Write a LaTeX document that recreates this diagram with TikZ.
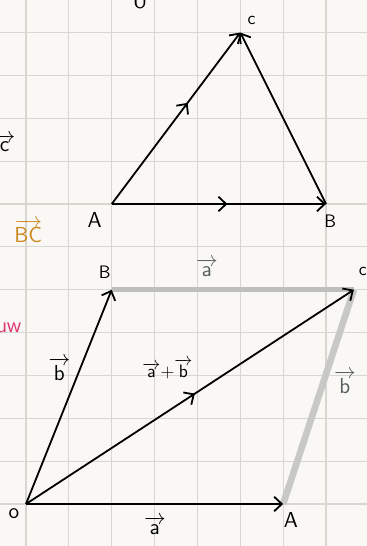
\documentclass[tikz,border=0pt]{standalone}
\usepackage{amsmath}
\usepackage{xcolor}
\definecolor{paper}{RGB}{250,248,244}
\definecolor{gridc}{RGB}{216,214,209}
\definecolor{ghost}{RGB}{200,200,196}
\definecolor{slate}{RGB}{85,95,95}
\definecolor{amber}{RGB}{205,135,30}
\definecolor{rose}{RGB}{222,55,115}
\usepackage{tikz}
\usetikzlibrary{arrows.meta,positioning,decorations.markings}
\tikzset{
  tip/.tip={Straight Barb[length=1.8mm,width=3.4mm]},
  vec/.style={line width=1.2pt,-tip},
  seg/.style={line width=1.2pt},
  midarrow/.style={postaction={decorate},decoration={markings,%
    mark=at position #1 with {\arrow{tip}}}},
  ghostline/.style={line width=3.6pt,draw=ghost},
  lbl/.style={font=\sffamily\large,inner sep=1pt},
  vlbl/.style={font=\sffamily\Large,inner sep=1pt},
}
\newcommand{\vv}[1]{$\overrightarrow{\mathsf{#1}}$}

\begin{document}
\begin{tikzpicture}
\fill[paper] (-0.607,-0.98) rectangle (7.956,11.76);
\useasboundingbox (-0.607,-0.98) rectangle (7.956,11.76);
\draw[gridc,line width=0.7pt] (-0.607,-0.98) grid (7.956,11.76);

% left margin, cut off
\node[lbl,font=\sffamily\Large,anchor=base] (topu) at (2.66,11.57) {U};
\node[vlbl] (vc) at (-0.5,8.42) {\vv{c}};
\node[vlbl,text=amber] (vbc) at (0.05,6.38) {$\overrightarrow{\mathsf{BC}}$};
\node[lbl,font=\sffamily\Large,text=rose,anchor=base] (uw) at (-0.4,4.0) {uw};

% triangle
\coordinate (tA) at (2,7);
\coordinate (tB) at (7,7);
\coordinate (tC) at (5,11);
\node[lbl,font=\sffamily\Large] (labtA) at (1.6,6.63) {A};
\node[lbl] (labtB) at (7.1,6.6) {B};
\node[lbl] (labtC) at (5.26,11.28) {c};
\draw[vec,midarrow=0.54] (tA) -- (tB);
\draw[vec] (tB) -- (tC);
\draw[vec,midarrow=0.59] (tA) -- (tC);

% parallelogram
\coordinate (O) at (0,0);
\coordinate (pA) at (6,0);
\coordinate (pB) at (2,5);
\coordinate (pC) at (7.65,5);
\draw[ghostline,draw=ghost!95!black] (pB) -- (pC);
\draw[ghostline,line width=4.4pt] (pA) -- (pC);
\draw[vec] (O) -- (pA);
\draw[vec] (O) -- (pB);
\draw[vec,midarrow=0.515] (O) -- (pC);
\node[lbl,font=\sffamily\Large] (labO) at (-0.28,-0.22) {o};
\node[lbl,font=\sffamily\Large] (labpA) at (6.18,-0.37) {A};
\node[lbl] (labpB) at (1.84,5.4) {B};
\node[lbl] (labpC) at (7.86,5.42) {c};
\node[vlbl,text=slate] (va1) at (4.22,5.52) {\vv{a}};
\node[vlbl] (vb1) at (0.78,3.15) {\vv{b}};
\node[vlbl,font=\sffamily\large] (vab) at (3.3,3.15) {\vv{a}+\vv{b}};
\node[vlbl,text=slate] (vb2) at (7.44,2.85) {\vv{b}};
\node[vlbl] (va2) at (3.01,-0.5) {\vv{a}};
\end{tikzpicture}
\end{document}
